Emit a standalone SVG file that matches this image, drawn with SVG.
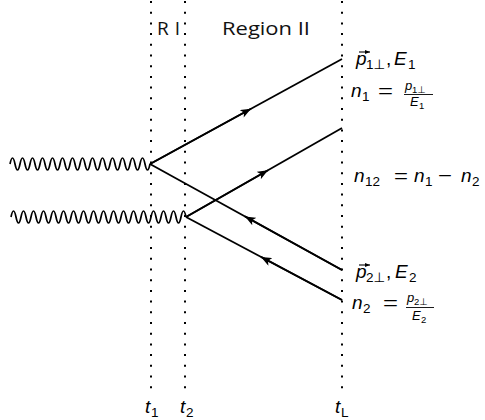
<svg xmlns="http://www.w3.org/2000/svg" width="485" height="420" viewBox="0 0 485 420">
<style>
.dot{stroke:#000;stroke-width:2;stroke-dasharray:2 8.7;fill:none}
.ln{stroke:#000;stroke-width:1.8;fill:none}
.wave{stroke:#000;stroke-width:1.7;fill:none}
.hd{font-family:"Open Sans","Liberation Sans",sans-serif;font-size:19px;fill:#111}
.m{font-family:"Liberation Sans","DejaVu Sans",sans-serif;font-style:italic;font-size:19px;fill:#000}
.s{font-family:"Liberation Sans","DejaVu Sans",sans-serif;font-size:13.5px;fill:#000}
.mf{font-family:"Liberation Sans","DejaVu Sans",sans-serif;font-style:italic;font-size:13px;fill:#000}
.sf{font-family:"Liberation Sans","DejaVu Sans",sans-serif;font-size:9.5px;fill:#000}
.op{font-family:"Liberation Sans","DejaVu Sans",sans-serif;font-size:19px;fill:#000}
</style>
<defs>
<marker id="ah" viewBox="0 0 10 8" refX="10" refY="4" markerWidth="11" markerHeight="8.5" markerUnits="userSpaceOnUse" orient="auto">
<path d="M0,0 L10,4 L0,8 L2.5,4 Z" fill="#000"/>
</marker>
<marker id="va" viewBox="0 0 5 4" refX="5" refY="2" markerWidth="5" markerHeight="4" markerUnits="userSpaceOnUse" orient="auto">
<path d="M0,0 L5,2 L0,4 Z" fill="#000"/>
</marker>
</defs>

<g id="time-lines">
<line class="dot" x1="151" y1="1" x2="151" y2="392"/>
<line class="dot" x1="185" y1="1" x2="185" y2="392"/>
<line class="dot" x1="342" y1="1" x2="342" y2="392"/>
</g>

<g id="region-labels">
<text class="hd" x="157" y="35" textLength="23" lengthAdjust="spacing">R I</text>
<text class="hd" x="222" y="35" textLength="88" lengthAdjust="spacingAndGlyphs">Region II</text>
</g>

<g id="photon1">
<path class="wave" d="M10,164 q2.5,-12 5,0 t5,0 t5,0 t5,0 t5,0 t5,0 t5,0 t5,0 t5,0 t5,0 t5,0 t5,0 t5,0 t5,0 t5,0 t5,0 t5,0 t5,0 t5,0 t5,0 t5,0 t5,0 t5,0 t5,0 t5,0 t5,0 t5,0 t5,0"/>
</g>
<g id="photon2">
<path class="wave" d="M11,217 q2.5,-12 5,0 t5,0 t5,0 t5,0 t5,0 t5,0 t5,0 t5,0 t5,0 t5,0 t5,0 t5,0 t5,0 t5,0 t5,0 t5,0 t5,0 t5,0 t5,0 t5,0 t5,0 t5,0 t5,0 t5,0 t5,0 t5,0 t5,0 t5,0 t5,0 t5,0 t5,0 t5,0 t5,0 t5,0 t5,0"/>
</g>

<g id="connectors">
<line class="ln" x1="150" y1="164" x2="342" y2="59"/>
<line class="ln" x1="150" y1="164" x2="251" y2="108.8" marker-end="url(#ah)"/>
<line class="ln" x1="186" y1="217" x2="342" y2="128"/>
<line class="ln" x1="186" y1="217" x2="268" y2="170.2" marker-end="url(#ah)"/>
<line class="ln" x1="150" y1="164" x2="342" y2="270"/>
<line class="ln" x1="342" y1="270" x2="245" y2="216.4" marker-end="url(#ah)"/>
<line class="ln" x1="186" y1="217" x2="342" y2="300"/>
<line class="ln" x1="342" y1="300" x2="261" y2="256.9" marker-end="url(#ah)"/>
</g>

<g id="label-p1">
<line x1="359" y1="52" x2="370" y2="52" stroke="#000" stroke-width="1.1" marker-end="url(#va)"/>
<text class="m" x="356" y="65">p</text>
<text class="s" x="366" y="69">1⊥</text>
<text class="op" x="386" y="65">,</text>
<text class="m" x="394" y="65">E</text>
<text class="s" x="408" y="69">1</text>
</g>
<g id="label-n1">
<text class="m" x="351" y="97">n</text>
<text class="s" x="362" y="101">1</text>
<text class="op" x="378" y="97" textLength="15" lengthAdjust="spacingAndGlyphs">=</text>
<text class="mf" x="405" y="90">p</text>
<text class="sf" x="412" y="93">1⊥</text>
<line x1="404" y1="94.5" x2="433" y2="94.5" stroke="#000" stroke-width="0.9"/>
<text class="mf" x="410" y="106">E</text>
<text class="sf" x="419" y="109">1</text>
</g>
<g id="label-n12">
<text class="m" x="354" y="182">n</text>
<text class="s" x="365" y="186">12</text>
<text class="op" x="394" y="182" textLength="14" lengthAdjust="spacingAndGlyphs">=</text>
<text class="m" x="414" y="182">n</text>
<text class="s" x="425" y="186">1</text>
<text class="op" x="438" y="182" textLength="14" lengthAdjust="spacingAndGlyphs">−</text>
<text class="m" x="461" y="182">n</text>
<text class="s" x="472" y="186">2</text>
</g>
<g id="label-p2">
<line x1="359" y1="265" x2="370" y2="265" stroke="#000" stroke-width="1.1" marker-end="url(#va)"/>
<text class="m" x="356" y="278">p</text>
<text class="s" x="366" y="282">2⊥</text>
<text class="op" x="386" y="278">,</text>
<text class="m" x="395" y="278">E</text>
<text class="s" x="409" y="282">2</text>
</g>
<g id="label-n2">
<text class="m" x="352" y="309">n</text>
<text class="s" x="363" y="313">2</text>
<text class="op" x="383" y="309" textLength="15" lengthAdjust="spacingAndGlyphs">=</text>
<text class="mf" x="407" y="302">p</text>
<text class="sf" x="414" y="305">2⊥</text>
<line x1="406" y1="307.5" x2="434" y2="307.5" stroke="#000" stroke-width="0.9"/>
<text class="mf" x="412" y="320">E</text>
<text class="sf" x="421" y="323">2</text>
</g>

<g id="time-labels">
<text class="m" x="145" y="413">t</text>
<text class="s" x="151" y="417">1</text>
<text class="m" x="180" y="413">t</text>
<text class="s" x="186" y="417">2</text>
<text class="m" x="335" y="413">t</text>
<text class="s" x="341" y="417">L</text>
</g>
</svg>
